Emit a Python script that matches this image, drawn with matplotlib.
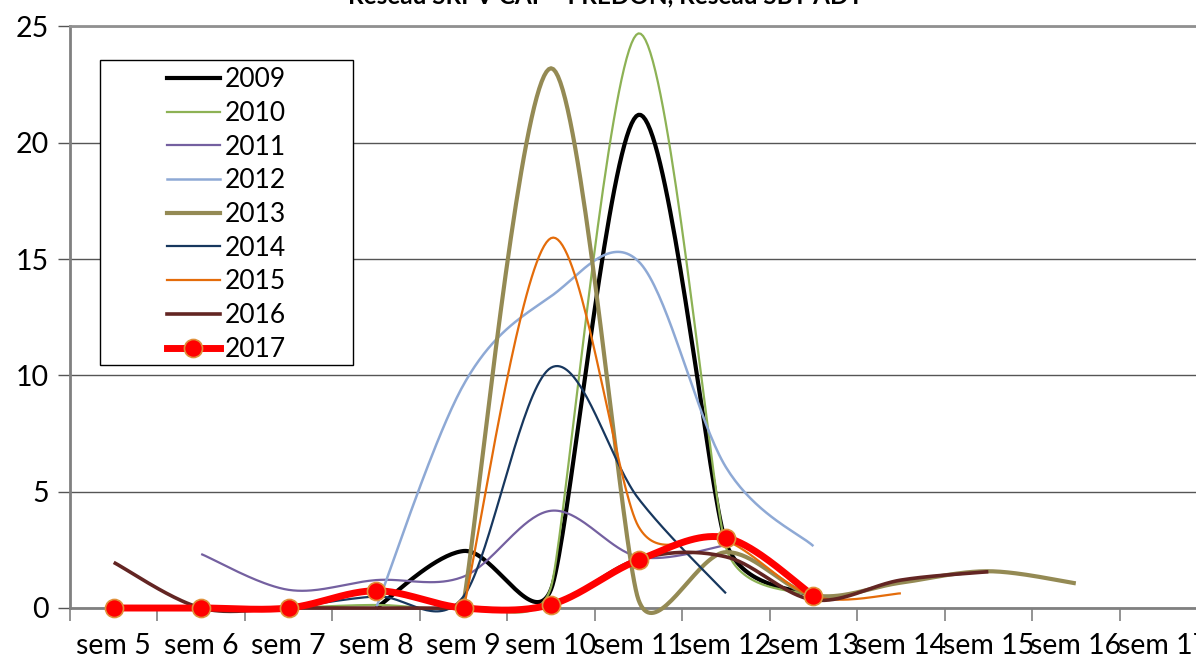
import numpy as np
import matplotlib.pyplot as plt
from matplotlib.lines import Line2D
from matplotlib.patches import Rectangle

plt.rcParams['font.family'] = ['Lato', 'DejaVu Sans']

nan = np.nan

# Data (weeks sem 5 .. sem 17)
weeks = ['sem 5', 'sem 6', 'sem 7', 'sem 8', 'sem 9', 'sem 10', 'sem 11',
         'sem 12', 'sem 13', 'sem 14', 'sem 15', 'sem 16', 'sem 17']
y2009 = [nan, nan, nan, 0, 2.45, 0.8, 21.2, 2.8, 0.5, nan, nan, nan, nan]
y2010 = [nan, nan, 0, 0.13, 0, 0.9, 24.7, 2.6, 0.5, nan, nan, nan, nan]
y2011 = [nan, 2.32, 0.78, 1.2, 1.35, 4.18, 2.2, 2.7, nan, nan, nan, nan, nan]
y2012 = [nan, nan, nan, 0, 9.6, 13.4, 14.9, 6.05, 2.66, nan, nan, nan, nan]
y2013 = [nan, nan, nan, nan, 0.2, 23.2, 0.35, 2.4, 0.55, 1.09, 1.58, 1.06, nan]
y2014 = [nan, nan, 0, 0.5, 0.5, 10.33, 4.7, 0.63, nan, nan, nan, nan, nan]
y2015 = [nan, nan, nan, nan, 0, 15.9, 3.5, 2.9, 0.5, 0.63, nan, nan, nan]
y2016 = [1.96, 0, 0, 0, 0, 0.1, 2.1, 2.2, 0.35, 1.2, 1.56, nan, nan]
y2017 = [0, 0, 0, 0.74, 0, 0.15, 2.06, 3.02, 0.52, nan, nan, nan, nan]

years = ['2009', '2010', '2011', '2012', '2013', '2014', '2015', '2016', '2017']
series = [y2009, y2010, y2011, y2012, y2013, y2014, y2015, y2016, y2017]
colors = ['#000000', '#8DB255', '#7460A0', '#8EA9D5', '#948A54',
          '#17375E', '#E46C0A', '#632523', '#FF0000']
widths = [3.0, 1.6, 1.6, 1.8, 3.0, 1.6, 1.6, 2.6, 5.0]

# pixel size of one category / one unit, used to smooth in screen space
SX, SY = 87.46, 23.27


def smooth(xs, ys, n=40):
    # Excel-like smoothed line: bezier, tangent capped by half the shorter segment
    pts = np.column_stack([np.asarray(xs) * SX, np.asarray(ys) * SY])
    m = len(pts)
    tang = np.zeros_like(pts)
    for i in range(m):
        p0 = pts[max(i - 1, 0)]
        p1 = pts[i]
        p2 = pts[min(i + 1, m - 1)]
        d = p2 - p0
        d02 = np.hypot(*d)
        if d02 == 0:
            continue
        L = d02 / 6
        segs = [np.hypot(*(p1 - p0)), np.hypot(*(p2 - p1))]
        segs = [s for s in segs if s > 0]
        if len(segs) == 2:
            L = min(L, min(segs) / 2)
        tang[i] = d / d02 * L
    out = []
    t = np.linspace(0, 1, n)[:, None]
    for i in range(m - 1):
        p1, p2 = pts[i], pts[i + 1]
        c1 = p1 + tang[i]
        c2 = p2 - tang[i + 1]
        seg = (1 - t)**3 * p1 + 3 * (1 - t)**2 * t * c1 + 3 * (1 - t) * t**2 * c2 + t**3 * p2
        out.append(seg if i == 0 else seg[1:])
    out = np.vstack(out)
    return out[:, 0] / SX, out[:, 1] / SY


fig = plt.figure(figsize=(11.96, 6.57), dpi=100)
ax = fig.add_axes([70 / 1196, 1 - 608 / 657, 1137 / 1196, (608 - 26.4) / 657])

x = np.arange(len(weeks))
for ys, col, lw in zip(series, colors, widths):
    ys = np.array(ys, dtype=float)
    ok = ~np.isnan(ys)
    cx, cy = smooth(x[ok], ys[ok])
    ax.plot(cx, cy, color=col, lw=lw, solid_capstyle='butt', clip_on=False, zorder=3)

# markers for 2017
ys = np.array(y2017, dtype=float)
ok = ~np.isnan(ys)
ax.plot(x[ok], ys[ok], 'o', ms=13, mfc='#FF0000', mec='#E0913A', mew=1.2, zorder=5, clip_on=False)

ax.set_xlim(-0.5, len(weeks) - 0.5)
ax.set_ylim(0, 25)
ax.set_yticks([0, 5, 10, 15, 20, 25])
ax.yaxis.grid(True, color='#555555', lw=1)
ax.set_axisbelow(True)

ax.set_xticks(np.arange(len(weeks) + 1) - 0.5)
ax.set_xticklabels([])
ax.set_xticks(x, minor=True)
ax.set_xticklabels(weeks, minor=True)
ax.tick_params(axis='x', which='major', direction='out', length=9, width=1.2, color='#808080')
ax.tick_params(axis='x', which='minor', length=0, pad=18, labelsize=20.5)
ax.tick_params(axis='y', direction='out', length=9, width=1, color='#555555', labelsize=20.5, pad=6)

ax.spines['right'].set_visible(False)
ax.spines['left'].set_color('#808080')
ax.spines['left'].set_linewidth(2)
ax.spines['bottom'].set_color('#808080')
ax.spines['bottom'].set_linewidth(2)
ax.spines['top'].set_color('#909090')
ax.spines['top'].set_linewidth(2)

# legend
handles = []
for yr, col, lw in zip(years, colors, widths):
    if yr == '2017':
        handles.append(Line2D([0], [0], color=col, lw=lw, marker='o', ms=13,
                              mfc='#FF0000', mec='#E0913A', mew=1.2))
    else:
        handles.append(Line2D([0], [0], color=col, lw=lw))
fig.add_artist(Rectangle((99.7 / 1196, 1 - 365 / 657), 253 / 1196, 304.7 / 657,
                         transform=fig.transFigure, facecolor='white',
                         edgecolor='black', lw=1, zorder=6))
leg = fig.legend(handles, years, loc='center left', bbox_to_anchor=(167 / 1196, 1 - 214.5 / 657),
                 frameon=False, fontsize=19, handlelength=2.0, handletextpad=0.2,
                 labelspacing=0.33, borderpad=0, borderaxespad=0)
leg.set_zorder(7)

fig.text(0.506, 1 - 3 / 657, 'Réseau SRPV CAP - FREDON, Réseau SBT ADT', ha='center',
         va='baseline', fontsize=17.5, fontweight='bold')

fig.savefig('out.png', dpi=100)
